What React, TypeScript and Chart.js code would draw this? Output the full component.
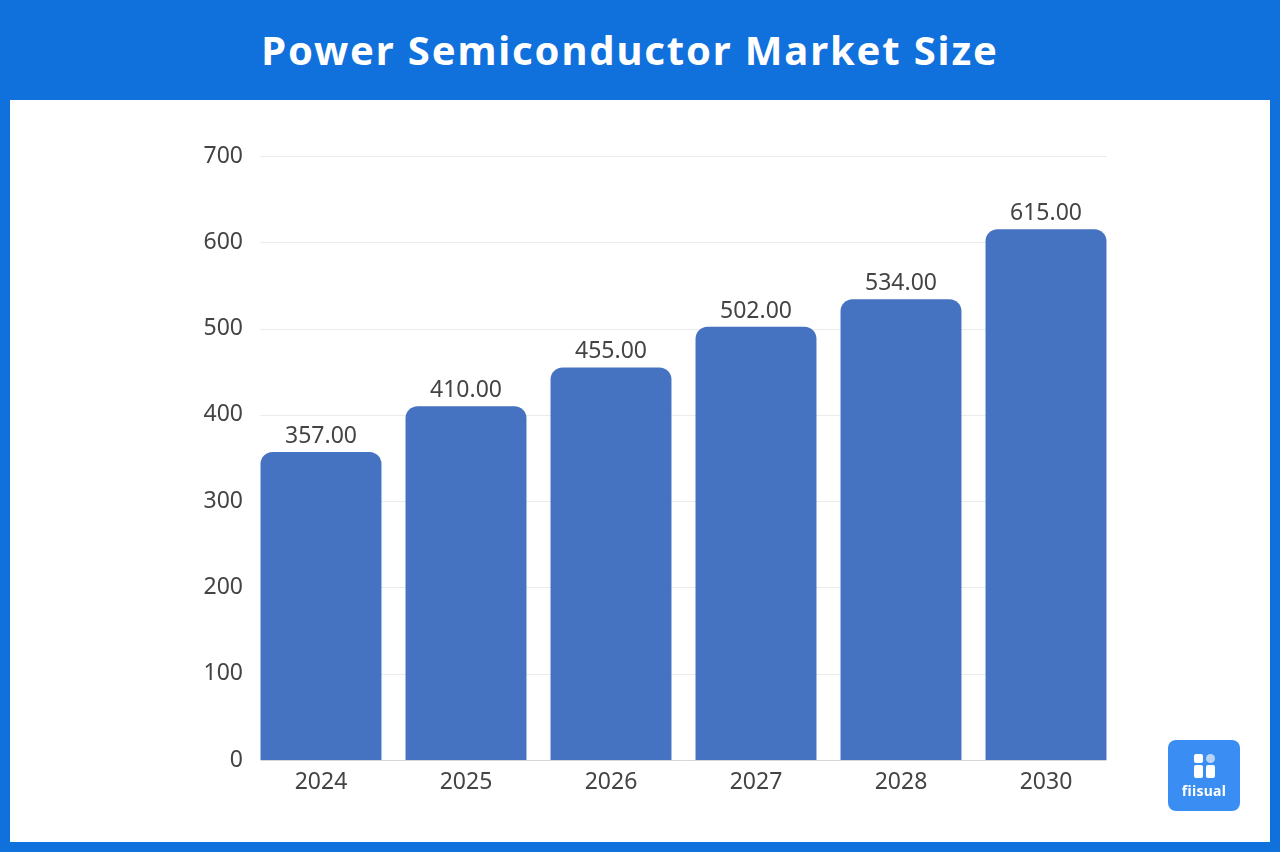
import { useEffect, useRef } from "react";
import { Chart, registerables } from "chart.js";

Chart.register(...registerables);

const years = ["2024", "2025", "2026", "2027", "2028", "2030"];
const marketSize = [357, 410, 455, 502, 534, 615];
const yTicks = [0, 100, 200, 300, 400, 500, 600, 700];

const FONT = "'Noto Sans', 'Open Sans', sans-serif";
const TEXT = "#444444";

// grid lines only span the bars, not the full category area
const barGrid = {
  id: "barGrid",
  beforeDatasetsDraw(chart: Chart) {
    const meta = chart.getDatasetMeta(0);
    const first = meta.data[0] as any;
    const last = meta.data[meta.data.length - 1] as any;
    if (!first || !last) return;
    const x0 = first.x - first.width / 2;
    const x1 = last.x + last.width / 2;
    const y = chart.scales.y;
    const ctx = chart.ctx;
    ctx.save();
    ctx.lineWidth = 1;
    yTicks.forEach((t) => {
      const py = Math.round(y.getPixelForValue(t)) + 0.5;
      ctx.strokeStyle = t === 0 ? "#d6d6d6" : "#ebebeb";
      ctx.beginPath();
      ctx.moveTo(x0, py);
      ctx.lineTo(x1, py);
      ctx.stroke();
    });
    ctx.restore();
  },
};

const valueLabels = {
  id: "valueLabels",
  afterDatasetsDraw(chart: Chart) {
    const meta = chart.getDatasetMeta(0);
    const ctx = chart.ctx;
    ctx.save();
    ctx.font = `23px ${FONT}`;
    ctx.fillStyle = TEXT;
    ctx.textAlign = "center";
    ctx.textBaseline = "bottom";
    meta.data.forEach((bar: any, i: number) => {
      ctx.fillText(marketSize[i].toFixed(2), bar.x, bar.y - 4);
    });
    ctx.restore();
  },
};

export default function App() {
  const canvasRef = useRef<HTMLCanvasElement>(null);

  useEffect(() => {
    document.body.style.margin = "0";
    const canvas = canvasRef.current;
    if (!canvas) return;

    const chart = new Chart(canvas, {
      type: "bar",
      data: {
        labels: years,
        datasets: [
          {
            label: "Market Size",
            data: marketSize,
            backgroundColor: "#4672C2",
            borderRadius: 12,
            borderSkipped: "bottom",
            categoryPercentage: 1,
            barPercentage: 0.834,
          },
        ],
      },
      options: {
        responsive: false,
        animation: false,
        layout: { padding: { left: 0, right: 151.5, top: 56, bottom: 0 } },
        plugins: {
          legend: { display: false },
          tooltip: { enabled: false },
        },
        scales: {
          x: {
            grid: { display: false, drawTicks: false },
            border: { display: false },
            ticks: {
              color: TEXT,
              font: { family: FONT, size: 23 },
              padding: 9,
            },
            afterFit: (scale: any) => {
              scale.height = 82;
            },
          },
          y: {
            min: 0,
            max: 700,
            grid: { display: false, drawTicks: false },
            border: { display: false },
            ticks: {
              stepSize: 100,
              color: TEXT,
              font: { family: FONT, size: 23 },
              padding: 5.5,
            },
            afterFit: (scale: any) => {
              scale.width = 238.5;
            },
          },
        },
      },
      plugins: [barGrid, valueLabels],
    });

    return () => chart.destroy();
  }, []);

  return (
    <div
      style={{
        position: "relative",
        width: 1280,
        height: 852,
        background: "#1070DC",
        fontFamily: FONT,
        overflow: "hidden",
      }}
    >
      <div
        style={{
          position: "absolute",
          left: 0,
          top: 0,
          width: 1280,
          height: 100,
          display: "flex",
          alignItems: "center",
          justifyContent: "center",
          color: "#ffffff",
          fontWeight: 700,
          fontSize: 40,
          letterSpacing: 1.85,
          paddingBottom: 2,
          paddingRight: 20,
          boxSizing: "border-box",
        }}
      >
        Power Semiconductor Market Size
      </div>
      <div
        style={{
          position: "absolute",
          left: 10,
          top: 100,
          width: 1260,
          height: 742,
          background: "#ffffff",
        }}
      >
        <canvas ref={canvasRef} width={1260} height={742} style={{ display: "block" }} />
        {/* brand badge */}
        <div
          style={{
            position: "absolute",
            left: 1158,
            top: 640,
            width: 72,
            height: 71,
            borderRadius: 8,
            background: "#3A8EF3",
            color: "#ffffff",
          }}
        >
          <div style={{ position: "absolute", left: 26, top: 14, width: 9, height: 9, borderRadius: 2, background: "#ffffff" }} />
          <div style={{ position: "absolute", left: 38, top: 14, width: 9, height: 9, borderRadius: 5, background: "#b9d4f7" }} />
          <div style={{ position: "absolute", left: 26, top: 25, width: 9, height: 13, borderRadius: 2, background: "#ffffff" }} />
          <div style={{ position: "absolute", left: 38, top: 25, width: 9, height: 13, borderRadius: 2, background: "#ffffff" }} />
          <div
            style={{
              position: "absolute",
              left: 0,
              top: 41,
              width: 72,
              textAlign: "center",
              fontSize: 14,
              fontWeight: 700,
              letterSpacing: 0.3,
            }}
          >
            fiisual
          </div>
        </div>
      </div>
    </div>
  );
}
